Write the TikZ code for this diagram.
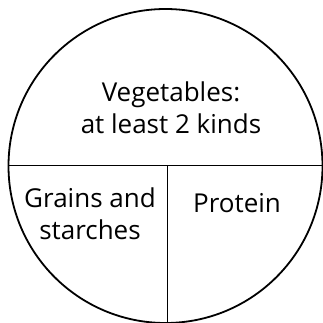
\documentclass[tikz,border=0pt]{standalone}
\usepackage{fontspec}
\setmainfont{Open Sans}
\usetikzlibrary{positioning, calc}

\begin{document}
\begin{tikzpicture}[x=1pt, y=1pt]
		% Fix the viewing box
		\useasboundingbox (0,0) rectangle (323,322);
		\clip (0,0) rectangle (323,322);
		
		% Plate outline
		\coordinate (C) at (165.5, 156);
		\draw[line width=1.8pt, black] (C) circle (157);
		
		% Dividing lines
		\coordinate (L) at (8, 156.3);
		\coordinate (R) at (323, 156.3);
		\coordinate (M) at (167, 156.3);
		\coordinate (B) at (167, 0);
		\draw[line width=1pt, black] (L) -- (R);
		\draw[line width=1pt, black] (M) -- (B);
		
		% Labels
		\node[font=\fontsize{26}{32}\selectfont, align=center] (veg) at (171, 214) {Vegetables:\\at least 2 kinds};
		\node[font=\fontsize{26}{32}\selectfont, align=center] (grains) at (90, 108) {Grains and\\starches};
		\node[font=\fontsize{26}{32}\selectfont, align=center] (protein) at (237, 119) {Protein};
		
	\end{tikzpicture}
\end{document}
